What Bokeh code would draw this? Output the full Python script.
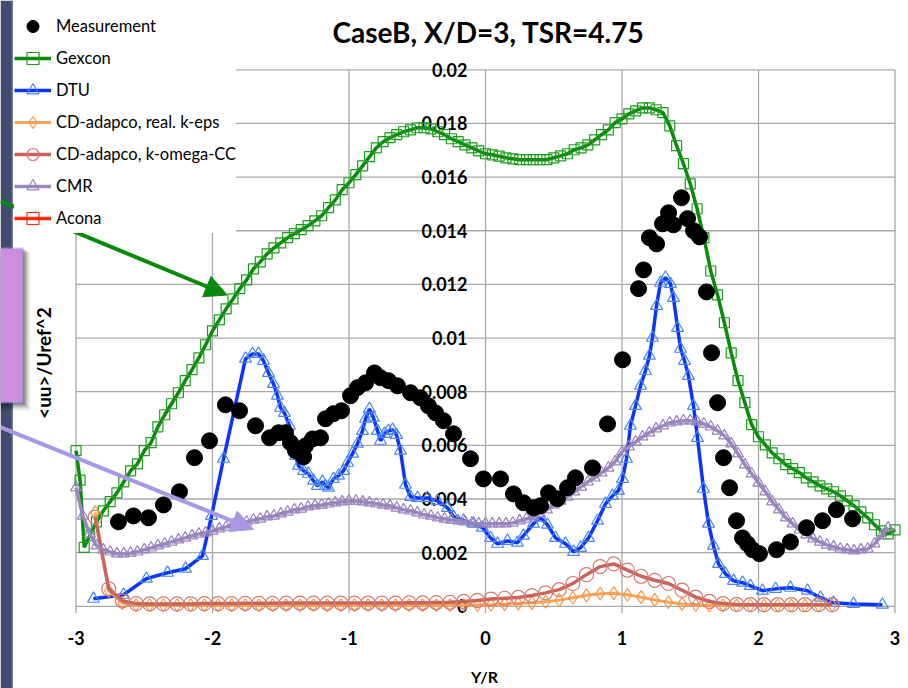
from bokeh.plotting import figure
from bokeh.models import (Range1d, LinearAxis, FixedTicker, Legend, LegendItem,
                          Label, Arrow, NormalHead, BoxAnnotation)
from bokeh.embed import file_html
from bokeh.resources import INLINE

# ---------------------------------------------------------------- data
MEAS_X = [-2.689, -2.579, -2.469, -2.359, -2.242, -2.132, -2.022, -1.905, -1.802, -1.685,
          -1.582, -1.516, -1.465, -1.429, -1.392, -1.333, -1.319, -1.267, -1.209, -1.172,
          -1.114, -1.055, -0.989, -0.938, -0.879, -0.813, -0.769, -0.711, -0.645, -0.549,
          -0.476, -0.418, -0.366, -0.308, -0.234, -0.110, -0.015, 0.110, 0.205, 0.278,
          0.352, 0.403, 0.462, 0.527, 0.601, 0.659, 0.784, 0.894, 1.004, 1.121,
          1.158, 1.201, 1.253, 1.297, 1.341, 1.377, 1.436, 1.480, 1.524, 1.568,
          1.619, 1.656, 1.700, 1.744, 1.788, 1.839, 1.883, 1.919, 1.956, 2.007,
          2.132, 2.234, 2.352, 2.469, 2.571, 2.689]
MEAS_Y = [0.00315, 0.00337, 0.00330, 0.00378, 0.00427, 0.00554, 0.00617, 0.00751, 0.00729, 0.00673,
          0.00628, 0.00647, 0.00647, 0.00610, 0.00580, 0.00557, 0.00598, 0.00624, 0.00628, 0.00699,
          0.00718, 0.00729, 0.00785, 0.00815, 0.00833, 0.00870, 0.00852, 0.00841, 0.00822, 0.00796,
          0.00777, 0.00747, 0.00721, 0.00692, 0.00643, 0.00550, 0.00475, 0.00475, 0.00419, 0.00386,
          0.00367, 0.00375, 0.00423, 0.00401, 0.00442, 0.00479, 0.00516, 0.00680, 0.00919, 0.01184,
          0.01254, 0.01374, 0.01351, 0.01426, 0.01467, 0.01422, 0.01523, 0.01445, 0.01400, 0.01377,
          0.01172, 0.00945, 0.00759, 0.00554, 0.00442, 0.00319, 0.00255, 0.00233, 0.00211, 0.00196,
          0.00211, 0.00240, 0.00293, 0.00319, 0.00360, 0.00326]

GEX_X = [-3.00, -2.97, -2.94, -2.90, -2.85, -2.80, -2.75, -2.70, -2.65, -2.60,
         -2.55, -2.50, -2.45, -2.40, -2.35, -2.30, -2.25, -2.20, -2.15, -2.10,
         -2.05, -2.00, -1.95, -1.90, -1.85, -1.80, -1.75, -1.70, -1.65, -1.60,
         -1.55, -1.50, -1.45, -1.40, -1.35, -1.30, -1.25, -1.20, -1.15, -1.10,
         -1.05, -1.00, -0.95, -0.90, -0.85, -0.80, -0.75, -0.70, -0.65, -0.60,
         -0.55, -0.50, -0.45, -0.40, -0.35, -0.30, -0.25, -0.20, -0.15, -0.10,
         -0.05, 0.00, 0.05, 0.10, 0.15, 0.20, 0.25, 0.30, 0.35, 0.40,
         0.45, 0.50, 0.55, 0.60, 0.65, 0.70, 0.75, 0.80, 0.85, 0.90,
         0.95, 1.00, 1.05, 1.10, 1.15, 1.20, 1.25, 1.30, 1.35, 1.40,
         1.45, 1.50, 1.55, 1.60, 1.65, 1.70, 1.75, 1.80, 1.85, 1.90,
         1.95, 2.00, 2.05, 2.10, 2.15, 2.20, 2.25, 2.30, 2.35, 2.40,
         2.45, 2.50, 2.55, 2.60, 2.65, 2.70, 2.75, 2.80, 2.85, 2.90,
         2.95, 3.00]
GEX_Y = [0.00580, 0.00470, 0.00220, 0.00263, 0.00315, 0.00356, 0.00390, 0.00423, 0.00464, 0.00505,
         0.00531, 0.00580, 0.00610, 0.00669, 0.00714, 0.00755, 0.00796, 0.00841, 0.00882, 0.00926,
         0.00975, 0.01027, 0.01068, 0.01109, 0.01146, 0.01184, 0.01217, 0.01258, 0.01284, 0.01314,
         0.01336, 0.01355, 0.01374, 0.01389, 0.01404, 0.01419, 0.01437, 0.01456, 0.01486, 0.01515,
         0.01553, 0.01579, 0.01609, 0.01642, 0.01676, 0.01709, 0.01732, 0.01747, 0.01758, 0.01769,
         0.01776, 0.01784, 0.01784, 0.01780, 0.01769, 0.01758, 0.01743, 0.01732, 0.01720, 0.01709,
         0.01698, 0.01687, 0.01683, 0.01678, 0.01672, 0.01668, 0.01665, 0.01665, 0.01665, 0.01665,
         0.01665, 0.01672, 0.01679, 0.01687, 0.01702, 0.01709, 0.01720, 0.01739, 0.01758, 0.01776,
         0.01803, 0.01817, 0.01836, 0.01847, 0.01858, 0.01858, 0.01851, 0.01840, 0.01791, 0.01717,
         0.01650, 0.01575, 0.01482, 0.01374, 0.01250, 0.01161, 0.01057, 0.00945, 0.00841, 0.00759,
         0.00677, 0.00632, 0.00602, 0.00572, 0.00550, 0.00528, 0.00513, 0.00498, 0.00479, 0.00464,
         0.00449, 0.00438, 0.00427, 0.00412, 0.00393, 0.00375, 0.00352, 0.00330, 0.00304, 0.00281,
         0.00270, 0.00285]

DTU_X = [-2.872, -2.652, -2.484, -2.330, -2.198, -2.073, -2.007, -1.919, -1.758, -1.707,
         -1.663, -1.626, -1.590, -1.553, -1.524, -1.502, -1.473, -1.436, -1.392, -1.370,
         -1.333, -1.297, -1.260, -1.231, -1.194, -1.172, -1.150, -1.114, -1.077, -1.040,
         -1.011, -0.974, -0.938, -0.901, -0.879, -0.850, -0.821, -0.791, -0.769, -0.740,
         -0.711, -0.681, -0.652, -0.623, -0.586, -0.549, -0.498, -0.425, -0.352, -0.278,
         -0.234, -0.161, -0.088, -0.022, 0.037, 0.088, 0.161, 0.234, 0.278, 0.352,
         0.403, 0.454, 0.513, 0.586, 0.645, 0.696, 0.755, 0.821, 0.879, 0.930,
         0.974, 1.004, 1.033, 1.062, 1.099, 1.136, 1.172, 1.201, 1.223, 1.253,
         1.282, 1.319, 1.355, 1.377, 1.407, 1.429, 1.458, 1.487, 1.524, 1.553,
         1.597, 1.634, 1.670, 1.707, 1.758, 1.817, 1.883, 1.941, 2.029, 2.125,
         2.234, 2.359, 2.454, 2.549, 2.696, 2.908]
DTU_Y = [0.00028, 0.00043, 0.00103, 0.00125, 0.00140, 0.00188, 0.00337, 0.00550, 0.00923, 0.00941,
         0.00941, 0.00915, 0.00870, 0.00829, 0.00785, 0.00740, 0.00721, 0.00673, 0.00561, 0.00524,
         0.00505, 0.00494, 0.00468, 0.00449, 0.00464, 0.00449, 0.00442, 0.00475, 0.00487, 0.00505,
         0.00535, 0.00569, 0.00606, 0.00654, 0.00699, 0.00736, 0.00703, 0.00654, 0.00617, 0.00643,
         0.00654, 0.00658, 0.00639, 0.00580, 0.00453, 0.00408, 0.00404, 0.00404, 0.00393, 0.00367,
         0.00334, 0.00319, 0.00308, 0.00293, 0.00255, 0.00233, 0.00244, 0.00237, 0.00263, 0.00308,
         0.00330, 0.00304, 0.00255, 0.00233, 0.00203, 0.00218, 0.00255, 0.00319, 0.00382, 0.00412,
         0.00431, 0.00475, 0.00550, 0.00673, 0.00747, 0.00822, 0.00878, 0.00934, 0.01001, 0.01120,
         0.01206, 0.01225, 0.01202, 0.01150, 0.01038, 0.00960, 0.00915, 0.00859, 0.00747, 0.00628,
         0.00438, 0.00308, 0.00226, 0.00158, 0.00121, 0.00095, 0.00088, 0.00076, 0.00058, 0.00065,
         0.00069, 0.00058, 0.00032, 0.00013, 0.00009, 0.00006]

CD_X = [-2.86, -2.76, -2.66, -2.56, -2.46, -2.36, -2.26, -2.16, -2.06, -1.96,
        -1.86, -1.76, -1.66, -1.56, -1.46, -1.36, -1.26, -1.16, -1.06, -0.96,
        -0.86, -0.76, -0.66, -0.56, -0.46, -0.36, -0.26, -0.16, -0.06, 0.04,
        0.14, 0.24, 0.34, 0.44, 0.54, 0.64, 0.74, 0.84, 0.94, 1.04,
        1.14, 1.24, 1.34, 1.44, 1.54, 1.64, 1.74, 1.84, 1.94, 2.04,
        2.14, 2.24, 2.34, 2.44, 2.54]
KEPS_Y = [0.00350, 0.00058, 0.00012, 0.00004, 0.00004, 0.00004, 0.00004, 0.00004, 0.00004, 0.00004,
          0.00004, 0.00004, 0.00004, 0.00004, 0.00004, 0.00004, 0.00004, 0.00004, 0.00004, 0.00004,
          0.00004, 0.00004, 0.00004, 0.00004, 0.00004, 0.00004, 0.00004, 0.00005, 0.00005, 0.00006,
          0.00008, 0.00010, 0.00013, 0.00017, 0.00023, 0.00032, 0.00041, 0.00047, 0.00049, 0.00043,
          0.00034, 0.00024, 0.00015, 0.00009, 0.00005, 0.00003, 0.00003, 0.00003, 0.00003, 0.00003,
          0.00003, 0.00003, 0.00003, 0.00003, 0.00003]
KOMEGA_Y = [0.00332, 0.00065, 0.00020, 0.00010, 0.00009, 0.00009, 0.00009, 0.00009, 0.00010, 0.00010,
            0.00010, 0.00011, 0.00011, 0.00011, 0.00012, 0.00012, 0.00012, 0.00012, 0.00012, 0.00012,
            0.00012, 0.00012, 0.00012, 0.00013, 0.00013, 0.00014, 0.00015, 0.00018, 0.00022, 0.00027,
            0.00030, 0.00033, 0.00040, 0.00050, 0.00062, 0.00085, 0.00118, 0.00148, 0.00158, 0.00135,
            0.00112, 0.00097, 0.00085, 0.00060, 0.00034, 0.00018, 0.00010, 0.00007, 0.00006, 0.00006,
            0.00006, 0.00006, 0.00006, 0.00006, 0.00006]

CMR_X = [-3.00, -2.95, -2.90, -2.85, -2.80, -2.75, -2.70, -2.65, -2.60, -2.55,
         -2.50, -2.45, -2.40, -2.35, -2.30, -2.25, -2.20, -2.15, -2.10, -2.05,
         -2.00, -1.95, -1.90, -1.85, -1.80, -1.75, -1.70, -1.65, -1.60, -1.55,
         -1.50, -1.45, -1.40, -1.35, -1.30, -1.25, -1.20, -1.15, -1.10, -1.05,
         -1.00, -0.95, -0.90, -0.85, -0.80, -0.75, -0.70, -0.65, -0.60, -0.55,
         -0.50, -0.45, -0.40, -0.35, -0.30, -0.25, -0.20, -0.15, -0.10, -0.05,
         0.00, 0.05, 0.10, 0.15, 0.20, 0.25, 0.30, 0.35, 0.40, 0.45,
         0.50, 0.55, 0.60, 0.65, 0.70, 0.75, 0.80, 0.85, 0.90, 0.95,
         1.00, 1.05, 1.10, 1.15, 1.20, 1.25, 1.30, 1.35, 1.40, 1.45,
         1.50, 1.55, 1.60, 1.65, 1.70, 1.75, 1.80, 1.85, 1.90, 1.95,
         2.00, 2.05, 2.10, 2.15, 2.20, 2.25, 2.30, 2.35, 2.40, 2.45,
         2.50, 2.55, 2.60, 2.65, 2.70, 2.75, 2.80, 2.85, 2.90, 2.95]
CMR_Y = [0.00442, 0.00337, 0.00270, 0.00226, 0.00211, 0.00203, 0.00196, 0.00196, 0.00199, 0.00203,
         0.00211, 0.00218, 0.00226, 0.00233, 0.00240, 0.00248, 0.00255, 0.00263, 0.00270, 0.00274,
         0.00281, 0.00289, 0.00296, 0.00304, 0.00311, 0.00315, 0.00322, 0.00326, 0.00334, 0.00337,
         0.00345, 0.00352, 0.00360, 0.00363, 0.00371, 0.00375, 0.00378, 0.00382, 0.00386, 0.00390,
         0.00393, 0.00393, 0.00390, 0.00386, 0.00382, 0.00378, 0.00375, 0.00367, 0.00360, 0.00356,
         0.00349, 0.00341, 0.00337, 0.00330, 0.00326, 0.00322, 0.00319, 0.00315, 0.00311, 0.00308,
         0.00308, 0.00308, 0.00308, 0.00308, 0.00311, 0.00319, 0.00326, 0.00334, 0.00345, 0.00360,
         0.00378, 0.00393, 0.00408, 0.00427, 0.00445, 0.00464, 0.00479, 0.00498, 0.00516, 0.00539,
         0.00576, 0.00595, 0.00613, 0.00632, 0.00647, 0.00662, 0.00673, 0.00684, 0.00688, 0.00692,
         0.00692, 0.00688, 0.00680, 0.00669, 0.00654, 0.00636, 0.00606, 0.00569, 0.00528, 0.00494,
         0.00460, 0.00427, 0.00390, 0.00360, 0.00330, 0.00308, 0.00285, 0.00267, 0.00252, 0.00240,
         0.00229, 0.00222, 0.00214, 0.00211, 0.00207, 0.00211, 0.00214, 0.00233, 0.00263, 0.00293]

# Acona has no values for this case (a single missing point keeps its legend entry)
ACONA_X = [float("nan")]
ACONA_Y = [float("nan")]

XTICKS = [-3, -2, -1, 0, 1, 2, 3]
XTICK_LABELS = ["-3", "-2", "-1", "0", "1", "2", "3"]
YTICKS = [0.0, 0.002, 0.004, 0.006, 0.008, 0.01, 0.012, 0.014, 0.016, 0.018, 0.02]
YTICK_LABELS = ["0", "0.002", "0.004", "0.006", "0.008", "0.01", "0.012", "0.014",
                "0.016", "0.018", "0.02"]

# ---------------------------------------------------------------- figure
FONT = "Lato"
INK = "black"
W, H = 908, 688
# pixel placement of the grid box inside the canvas
GX0, GX1 = 75.5, 894.5          # x = -3 .. 3
GY_TOP, GY_ZERO = 69.3, 605.8   # y = 0.02 .. 0
kx = (GX1 - GX0) / (XTICKS[-1] - XTICKS[0])
ky = (GY_ZERO - GY_TOP) / YTICKS[-1]
x_range = Range1d(XTICKS[0] - GX0 / kx, XTICKS[-1] + (W - GX1) / kx)
y_range = Range1d(-(H - GY_ZERO) / ky, YTICKS[-1] + GY_TOP / ky)

p = figure(width=W, height=H, x_range=x_range, y_range=y_range, min_border=0,
           toolbar_location=None, output_backend="svg",
           x_axis_location=None, y_axis_location=None)
p.title.visible = False
p.outline_line_color = None
p.grid.visible = False
p.background_fill_color = "white"
p.border_fill_color = "white"

# grid box limited to [-3, 3] x [0, 0.02]; vertical lines poke slightly below zero
GRID_COLOR = "#a8a8a8"
p.segment(x0=XTICKS, y0=[-0.00026] * len(XTICKS), x1=XTICKS, y1=[YTICKS[-1]] * len(XTICKS),
          line_color=GRID_COLOR, line_width=1.3, level="underlay")
p.segment(x0=[XTICKS[0]] * len(YTICKS), y0=YTICKS, x1=[XTICKS[-1]] * len(YTICKS), y1=YTICKS,
          line_color=GRID_COLOR, line_width=1.3, level="underlay")

xa = LinearAxis(fixed_location=0, ticker=FixedTicker(ticks=XTICKS),
                major_label_overrides=dict(zip(XTICKS, XTICK_LABELS)),
                axis_line_color=None, major_tick_line_color=None, minor_tick_line_color=None,
                major_tick_out=0, major_label_standoff=25,
                major_label_text_font=FONT, major_label_text_font_style="bold",
                major_label_text_font_size="18px", major_label_text_color=INK,
                level="underlay")
p.add_layout(xa, "below")

ya = LinearAxis(fixed_location=0, ticker=FixedTicker(ticks=YTICKS),
                major_label_overrides=dict(zip(YTICKS, YTICK_LABELS)),
                axis_line_color=None, major_tick_line_color=None, minor_tick_line_color=None,
                major_tick_out=0, major_label_standoff=18,
                major_label_text_font=FONT, major_label_text_font_style="bold",
                major_label_text_font_size="18px", major_label_text_color=INK,
                level="underlay")
p.add_layout(ya, "left")

# ---------------------------------------------------------------- series
gex_l = p.line(GEX_X, GEX_Y, line_color="#0a8a0a", line_width=3.5)
gex_m = p.scatter(GEX_X, GEX_Y, marker="square", size=10, line_color="#1c9c1c",
                  line_width=1.2, fill_color=None)

dtu_l = p.line(DTU_X, DTU_Y, line_color="#0a35ff", line_width=3.5)
dtu_m = p.scatter(DTU_X, DTU_Y, marker="triangle", size=12, line_color="#4a86f2",
                  line_width=1.2, fill_color=None)

keps_l = p.line(CD_X, KEPS_Y, line_color="#f9a45a", line_width=3)
keps_m = p.scatter(CD_X, KEPS_Y, marker="diamond", size=13, line_color="#f79646",
                   line_width=1.2, fill_color=None)

kom_l = p.line(CD_X, KOMEGA_Y, line_color="#c9645a", line_width=3.5)
kom_m = p.scatter(CD_X, KOMEGA_Y, marker="circle", size=14, line_color="#d27a70",
                  line_width=1.2, fill_color=None)

cmr_l = p.line(CMR_X, CMR_Y, line_color="#9a87bd", line_width=3.5)
cmr_m = p.scatter(CMR_X, CMR_Y, marker="triangle", size=11, line_color="#9682ba",
                  line_width=1.2, fill_color=None)

acona_l = p.line(ACONA_X, ACONA_Y, line_color="#ff2a00", line_width=3.5)
acona_m = p.scatter(ACONA_X, ACONA_Y, marker="square", size=11, line_color="#ff2a00",
                    line_width=1.2, fill_color=None)

meas = p.scatter(MEAS_X, MEAS_Y, marker="circle", size=16, fill_color="black",
                 line_color="black")


# ---------------------------------------------------------------- screen helpers
def sx(x):
    return x


def sy(y):
    return H - y


# ---------------------------------------------------------------- legend
legend = Legend(items=[
    LegendItem(label="Measurement", renderers=[meas]),
    LegendItem(label="Gexcon", renderers=[gex_l, gex_m]),
    LegendItem(label="DTU", renderers=[dtu_l, dtu_m]),
    LegendItem(label="CD-adapco, real. k-eps", renderers=[keps_l, keps_m]),
    LegendItem(label="CD-adapco, k-omega-CC", renderers=[kom_l, kom_m]),
    LegendItem(label="CMR", renderers=[cmr_l, cmr_m]),
    LegendItem(label="Acona", renderers=[acona_l, acona_m]),
], location=(sx(14), sy(233)), background_fill_color="white",
    background_fill_alpha=1.0, border_line_color=None, label_text_font=FONT,
    label_text_font_size="16.5px", label_text_color=INK, glyph_width=37, glyph_height=30,
    label_height=30, label_standoff=5, spacing=2, padding=4, margin=0)
p.add_layout(legend)


# ---------------------------------------------------------------- slide decorations
def screen_box(left, right, top, bottom, **kw):
    return BoxAnnotation(left=sx(left), right=sx(right), top=sy(top), bottom=sy(bottom),
                         left_units="screen", right_units="screen", top_units="screen",
                         bottom_units="screen", level="overlay", **kw)


p.add_layout(screen_box(0, 12, 0, H, fill_color="#414c6c", fill_alpha=1, line_color=None))
p.add_layout(screen_box(11, 12.5, 0, H, fill_color="#6f7893", fill_alpha=1, line_color=None))
for off, a in [(2, 0.25), (4, 0.18), (6, 0.12), (8, 0.07)]:
    p.add_layout(screen_box(0, 22 + off, 248 + off / 2, 402 + off,
                            fill_color="black", fill_alpha=a, line_color=None))
p.add_layout(screen_box(0, 22, 248, 402, fill_color="#cb8fdc", fill_alpha=1,
                        line_color="#a99ce8", line_width=3))

p.add_layout(Arrow(end=NormalHead(size=22, fill_color="#0a8a0a", line_color="#0a8a0a"),
                   x_start=sx(0), y_start=sy(200.5), x_end=sx(226.7), y_end=sy(294.5),
                   start_units="screen", end_units="screen", line_color="#0a8a0a",
                   line_width=4, level="overlay"))
p.add_layout(Arrow(end=NormalHead(size=22, fill_color="#a898e4", line_color="#a898e4"),
                   x_start=sx(0), y_start=sy(426.7), x_end=sx(253), y_end=sy(529),
                   start_units="screen", end_units="screen", line_color="#a898e4",
                   line_width=4, level="overlay"))

# ---------------------------------------------------------------- texts
p.add_layout(Label(x=sx(488), y=sy(31), x_units="screen", y_units="screen",
                   text="CaseB, X/D=3, TSR=4.75", text_font=FONT, text_font_style="bold",
                   text_font_size="28px", text_color=INK, text_align="center",
                   text_baseline="middle"))
p.add_layout(Label(x=sx(42.5), y=sy(362.5), x_units="screen", y_units="screen",
                   text="<uu>/Uref^2", angle=90, angle_units="deg", text_font=FONT,
                   text_font_style="bold", text_font_size="19px", text_color=INK,
                   text_align="center", text_baseline="middle"))
p.add_layout(Label(x=sx(484), y=sy(676), x_units="screen", y_units="screen",
                   text="Y/R", text_font=FONT, text_font_style="bold",
                   text_font_size="16px", text_color=INK, text_align="center",
                   text_baseline="middle"))

open("out.html", "w").write(file_html(p, INLINE))
